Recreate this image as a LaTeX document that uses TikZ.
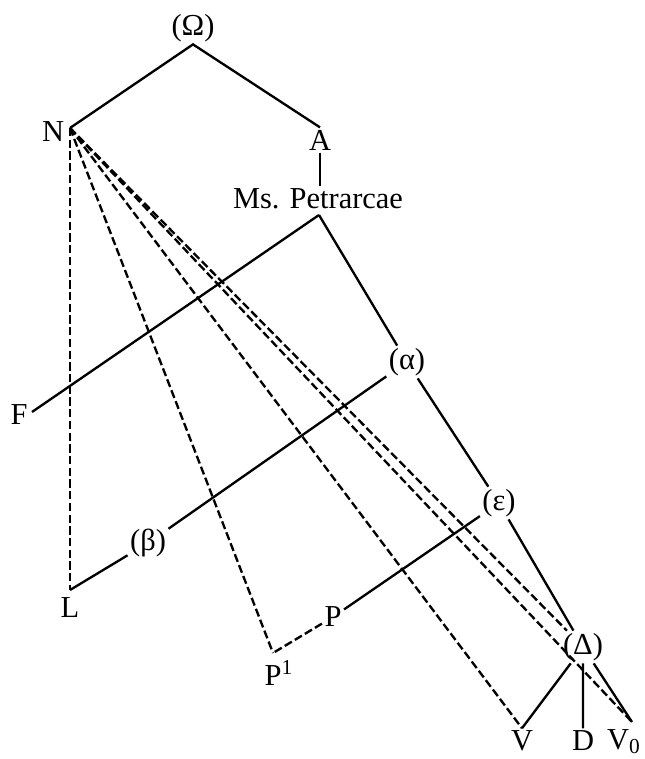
\documentclass[tikz,border=0pt]{standalone}
\usepackage{fontspec}
\setmainfont{Liberation Serif}
\begin{document}
\begin{tikzpicture}[x=0.03cm, y=-0.03cm,
    every node/.style={inner sep=2pt, font=\fontsize{26}{31}\selectfont},
    normal/.style={draw=black, line width=2pt},
    broken/.style={draw=black, line width=2pt, dash pattern=on 7pt off 3pt}
]
\useasboundingbox (0,0) rectangle (644,759);

% -------- Arquetipo y primeras ramas --------
\node (Om) at (193,28) {(Ω)};
\coordinate (N) at (70,128);
\node (Nl) at (53,132) {N};
\node (A) at (320,140) {A};
\node (Ms) at (318,199) {Ms. Petrarcae};
\coordinate (Mp) at (319,215); % vértice bajo Ms. Petrarcae

\draw[normal] (N) -- (Om.south) -- (A.north);
\draw[normal] (A.south) -- (A.south |- Ms.north);

% -------- Familia de Ms. Petrarcae --------
\coordinate (F) at (32,412);
\node (Fl) at (19,415) {F};
\node (al) at (407,362) {(α)};
\node (ep) at (499,503) {(ε)};
\node (De) at (583,647) {(Δ)};
\node (be) at (148,543) {(β)};
\coordinate (L) at (70,590);
\node (Ll) at (70,608) {L};
\node (P) at (333,617) {P};
\coordinate (P1) at (273,653);
\node[anchor=base west] (P1l) at (262,685) {P\textsuperscript{1}};
\node (V) at (522,741) {V};
\node (D) at (583,741) {D};
\coordinate (V0) at (632,722);
\node[anchor=base west, inner sep=0pt] (V0l) at (607,749) {V\textsubscript{0}};

\draw[normal] (Mp) -- (F);
\draw[normal] (Mp) -- (al) -- (ep) -- (De);
\draw[normal] (al) -- (be) -- (L);
\draw[normal] (ep) -- (P);
\draw[broken] (P) -- (P1);
\draw[normal] (V.north) -- (De) -- (D);
\draw[normal] (De) -- (V0);

% Contaminación desde N (en trazos)
\draw[broken] (N) -- (L);
\draw[broken] (N) -- (P1);
\draw[broken] (N) -- (V.north);
\draw[broken] (N) -- (De);
\draw[broken] (N) -- (V0);
\end{tikzpicture}
\end{document}
